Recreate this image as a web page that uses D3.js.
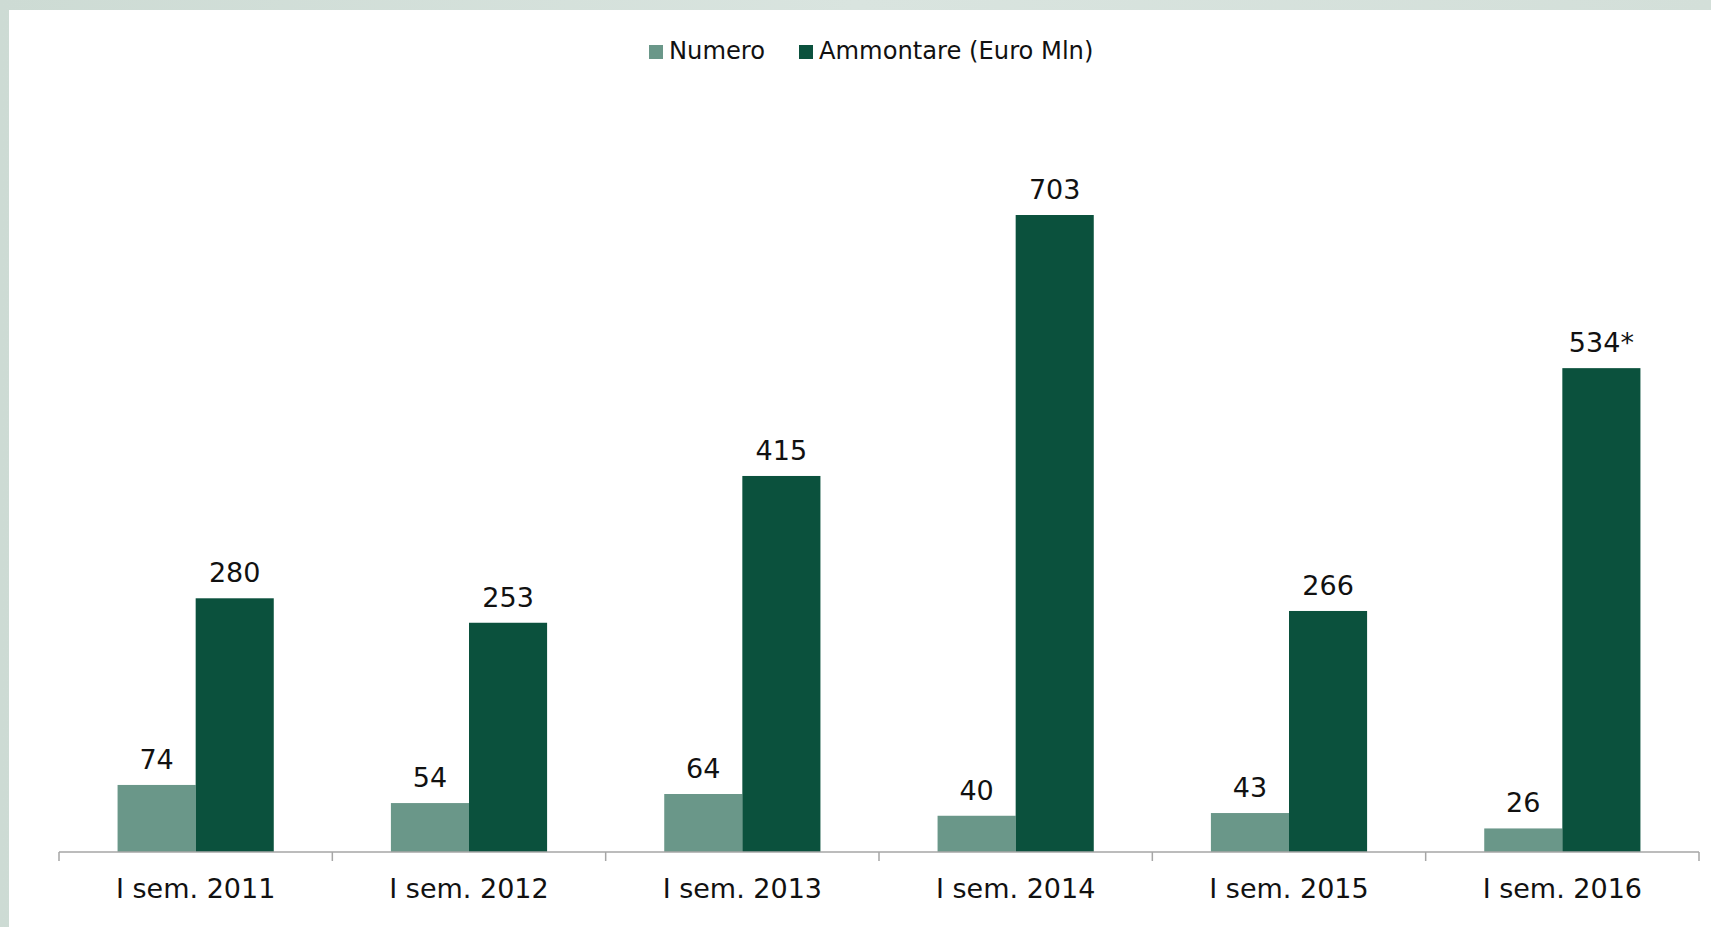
<!DOCTYPE html>
<html>
<head>
<meta charset="utf-8">
<script src="https://cdn.jsdelivr.net/npm/d3@7"></script>
<style>
  html, body { margin: 0; padding: 0; background: #fff; }
  svg { display: block; font-family: "DejaVu Sans", Verdana, sans-serif; }
</style>
</head>
<body>
<div class="chart"></div>
<script>
// data
const categories = ["I sem. 2011", "I sem. 2012", "I sem. 2013", "I sem. 2014", "I sem. 2015", "I sem. 2016"];
const seriesNames = ["Numero", "Ammontare (Euro Mln)"];
const numero = [74, 54, 64, 40, 43, 26];
const ammontare = [280, 253, 415, 703, 266, 534];
const ammontareLabels = ["280", "253", "415", "703", "266", "534*"];
const colors = ["#6a9789", "#0b513d"];

const W = 1711, H = 927;
const svg = d3.select(".chart").append("svg")
  .attr("width", W)
  .attr("height", H);

// slide frame: greenish border on the left and top
const grad = svg.append("defs").append("linearGradient")
  .attr("id", "frame").attr("x1", 0).attr("x2", 1).attr("y1", 0).attr("y2", 0);
grad.append("stop").attr("offset", "0%").attr("stop-color", "#cddbd4");
grad.append("stop").attr("offset", "50%").attr("stop-color", "#d9e4df");
grad.append("stop").attr("offset", "100%").attr("stop-color", "#d3dfd9");
svg.append("rect").attr("width", W).attr("height", H).attr("fill", "url(#frame)");
svg.append("rect").attr("x", 9).attr("y", 10).attr("width", W - 9).attr("height", H - 10).attr("fill", "#fff");

const x0 = 59, x1 = 1699, yBase = 852;
const x = d3.scaleBand().domain(categories).range([x0, x1]);
const xs = d3.scaleBand().domain(seriesNames).range([0, x.bandwidth()]).paddingInner(0).paddingOuter(0.75);
const y = d3.scaleLinear().domain([0, 800]).range([yBase, yBase - 0.9061 * 800]);

const rows = categories.map((c, i) => ({
  cat: c,
  vals: [
    { s: seriesNames[0], v: numero[i], label: String(numero[i]), color: colors[0] },
    { s: seriesNames[1], v: ammontare[i], label: ammontareLabels[i], color: colors[1] }
  ]
}));

const groups = svg.selectAll("g.grp")
  .data(rows)
  .enter()
  .append("g")
  .attr("class", "grp")
  .attr("transform", d => "translate(" + x(d.cat) + ",0)");

groups.selectAll("rect")
  .data(d => d.vals)
  .enter()
  .append("rect")
  .attr("x", d => xs(d.s))
  .attr("y", d => y(d.v))
  .attr("width", xs.bandwidth())
  .attr("height", d => yBase - y(d.v))
  .attr("fill", d => d.color);

groups.selectAll("text")
  .data(d => d.vals)
  .enter()
  .append("text")
  .attr("x", d => xs(d.s) + xs.bandwidth() / 2)
  .attr("y", d => y(d.v) - 16)
  .attr("text-anchor", "middle")
  .attr("font-size", 27)
  .attr("fill", "#111")
  .text(d => d.label);

// x axis
const axis = svg.append("g").attr("transform", "translate(0," + yBase + ")");
axis.append("line")
  .attr("x1", x0).attr("x2", x1)
  .attr("stroke", "#a6a6a6").attr("stroke-width", 1.5);
const edges = categories.map(c => x(c)).concat([x1]);
axis.selectAll("line.tick")
  .data(edges)
  .enter()
  .append("line")
  .attr("class", "tick")
  .attr("x1", d => d).attr("x2", d => d)
  .attr("y1", 0).attr("y2", 9)
  .attr("stroke", "#a6a6a6").attr("stroke-width", 1.5);
axis.selectAll("text")
  .data(categories)
  .enter()
  .append("text")
  .attr("x", d => x(d) + x.bandwidth() / 2)
  .attr("y", 46)
  .attr("text-anchor", "middle")
  .attr("font-size", 27)
  .attr("fill", "#111")
  .text(d => d);

// legend
const legendX = [649, 799];
const legend = svg.selectAll("g.legend")
  .data(seriesNames)
  .enter()
  .append("g")
  .attr("class", "legend")
  .attr("transform", (d, i) => "translate(" + legendX[i] + ",0)");
legend.append("rect")
  .attr("x", 0).attr("y", 45)
  .attr("width", 14).attr("height", 14)
  .attr("fill", (d, i) => colors[i]);
legend.append("text")
  .attr("x", 20).attr("y", 59)
  .attr("font-size", 24.2)
  .attr("fill", "#111")
  .text(d => d);
</script>
</body>
</html>
